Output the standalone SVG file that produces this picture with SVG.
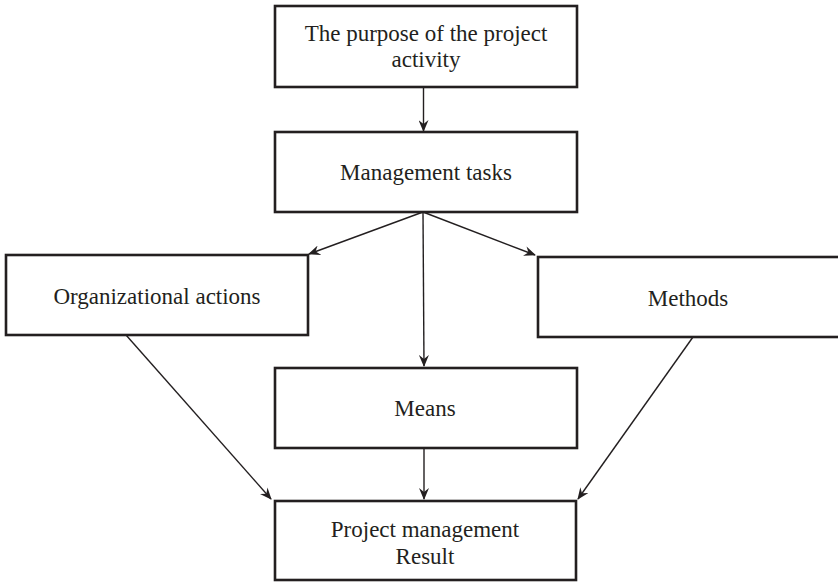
<svg xmlns="http://www.w3.org/2000/svg" width="838" height="582" viewBox="0 0 838 582">
<style>
.box{fill:#fff;stroke:#231f20;stroke-width:2.6}
.lbl{font-family:"Liberation Serif","Times New Roman",serif;font-size:23px;fill:#231f20;text-anchor:middle}
.con{stroke:#231f20;stroke-width:1.4;fill:none;marker-end:url(#ah)}
</style>
<defs>
<marker id="ah" viewBox="0 0 12 10" refX="11" refY="5" markerWidth="12" markerHeight="10" markerUnits="userSpaceOnUse" orient="auto">
<path d="M0,0 L12,5 L0,10 L4,5 Z" fill="#231f20"/>
</marker>
</defs>
<rect width="838" height="582" fill="#fff"/>
<g id="connectors">
<line class="con" x1="423.5" y1="87" x2="423.5" y2="131"/>
<line class="con" x1="423" y1="212" x2="309" y2="254"/>
<line class="con" x1="423" y1="212" x2="424" y2="366"/>
<line class="con" x1="423" y1="212" x2="535" y2="255"/>
<line class="con" x1="126" y1="335" x2="271" y2="499"/>
<line class="con" x1="693" y1="337" x2="578" y2="499"/>
<line class="con" x1="424" y1="448" x2="424" y2="499"/>
</g>
<g id="purpose">
<rect class="box" x="275" y="6" width="302" height="81"/>
<text class="lbl" x="426" y="41">The purpose of the project</text>
<text class="lbl" x="426" y="67">activity</text>
</g>
<g id="tasks">
<rect class="box" x="275" y="132" width="302" height="80"/>
<text class="lbl" x="426" y="180">Management tasks</text>
</g>
<g id="org">
<rect class="box" x="6" y="255" width="302" height="80"/>
<text class="lbl" x="157" y="304">Organizational actions</text>
</g>
<g id="methods">
<rect class="box" x="538" y="257" width="310" height="80"/>
<text class="lbl" x="688" y="306">Methods</text>
</g>
<g id="means">
<rect class="box" x="275" y="368" width="302" height="80"/>
<text class="lbl" x="425" y="416">Means</text>
</g>
<g id="result">
<rect class="box" x="275" y="501" width="301" height="79"/>
<text class="lbl" x="425" y="537">Project management</text>
<text class="lbl" x="425" y="564">Result</text>
</g>
</svg>
